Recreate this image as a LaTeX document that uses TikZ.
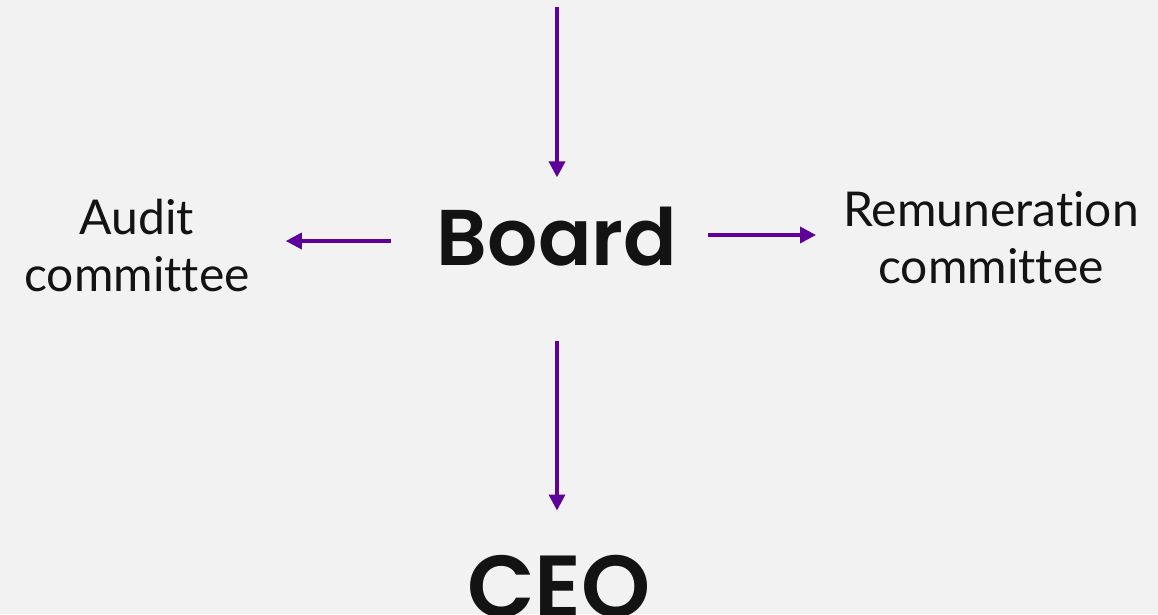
\documentclass[tikz,border=0pt]{standalone}
\usepackage{fontspec}
\setmainfont{Lato}[Ligatures=NoCommon]
\newfontfamily\popb{Poppins}[UprightFont=* SemiBold]
\usetikzlibrary{arrows.meta}
\definecolor{bg}{HTML}{F2F2F2}
\definecolor{arrowpurple}{RGB}{94,0,153}
\definecolor{ink}{HTML}{131313}
\tikzset{
  bigtxt/.style={text=ink, inner sep=0pt, font=\popb\fontsize{79}{90}\selectfont},
  smalltxt/.style={text=ink, inner sep=0pt, align=center, font=\fontsize{48}{57}\selectfont},
  arr/.style={draw=arrowpurple, line width=3.5pt, -{Triangle[length=16pt,width=16pt]}}
}
\begin{document}
\begin{tikzpicture}[x=1pt,y=-1pt]
\fill[bg] (0,0) rectangle (1158,614);
\useasboundingbox (0,0) rectangle (1158,614);
\node[bigtxt, anchor=base] (board) at (557,265) {Board};
\node[bigtxt, anchor=base, font=\popb\fontsize{88}{100}\selectfont] (ceo) at (559,617) {CEO};
\node[smalltxt, anchor=north] (audit) at (137,199) {Audit\\committee};
\node[smalltxt, anchor=north] (remun) at (991,191) {Remuneration\\committee};
\coordinate (topstart) at (557,7);
\coordinate (lh) at (0,241);
\coordinate (rh) at (0,235);
\draw[arr, shorten >=29pt] (topstart) -- (board.north);
\draw[arr, shorten <=75pt, shorten >=44pt] (board.south) -- (board.south |- ceo.north);
\draw[arr, shorten <=46pt, shorten >=36pt] (board.west |- lh) -- (audit.east |- lh);
\draw[arr, shorten <=31pt, shorten >=27pt] (board.east |- rh) -- (remun.west |- rh);
\end{tikzpicture}
\end{document}
